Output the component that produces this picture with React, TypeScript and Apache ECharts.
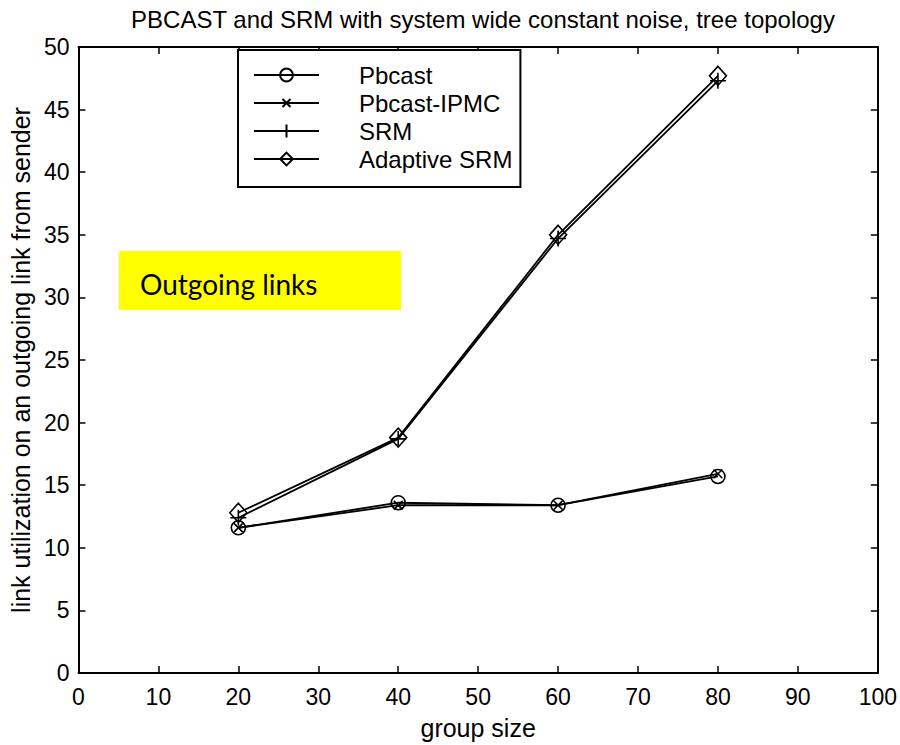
import React, { useEffect, useRef } from "react";
import * as echarts from "echarts";

const groupSizes = [20, 40, 60, 80];
const pbcast = [11.6, 13.6, 13.4, 15.7];
const pbcastIpmc = [11.6, 13.4, 13.4, 15.9];
const srm = [12.4, 18.7, 34.7, 47.3];
const adaptiveSrm = [12.8, 18.8, 35.0, 47.7];
const seriesNames = ["Pbcast", "Pbcast-IPMC", "SRM", "Adaptive SRM"];

const SYM_CIRCLE = "path://M10,5A5,5 0 1 1 0,5A5,5 0 1 1 10,5Z";
const SYM_X = "path://M-3,-3M13,13M0,0L10,10M10,0L0,10";
const SYM_PLUS = "path://M5,0L5,10M0,5L10,5";
const SYM_DIAMOND = "path://M5,0L10,5.5L5,11L0,5.5Z";

const FONT = "Liberation Sans, Arial, Helvetica, sans-serif";

export default function App() {
  const ref = useRef<HTMLDivElement>(null);
  useEffect(() => {
    document.body.style.margin = "0";
    const chart = echarts.init(ref.current!, null, { renderer: "svg" });
    const mk = (name: string, data: number[], symbol: string, size: number | number[]) => ({
      name,
      type: "line",
      data: groupSizes.map((x, i) => [x, data[i]]),
      symbol,
      symbolSize: size,
      showAllSymbol: true,
      lineStyle: { color: "#000", width: 1.8 },
      itemStyle: { color: "rgba(0,0,0,0)", borderColor: "#000", borderWidth: 1.6 },
      emphasis: { disabled: true },
    });
    const tickFont = { fontSize: 23, color: "#000", fontFamily: FONT };
    const axisLine = { show: true, onZero: false, lineStyle: { color: "#000", width: 2 } };
    const axisTick = { show: true, inside: true, length: 7, lineStyle: { color: "#000", width: 1.5 } };
    chart.setOption({
      animation: false,
      title: {
        text: "PBCAST and SRM with system wide constant noise, tree topology",
        left: 478,
        textAlign: "center",
        top: 2,
        textStyle: { fontSize: 24, fontWeight: "normal", color: "#000", fontFamily: FONT },
      },
      legend: {
        data: seriesNames,
        orient: "vertical",
        left: 238,
        top: 50,
        padding: [13, 8, 16, 15],
        itemGap: 4,
        itemWidth: 65,
        itemHeight: 16,
        backgroundColor: "#fff",
        borderColor: "#000",
        borderWidth: 2,
        borderRadius: 0,
        textStyle: {
          fontSize: 24,
          color: "#000",
          fontFamily: FONT,
          padding: [0, 0, 0, 35],
          lineHeight: 24,
        },
      },
      grid: { left: 78, right: 22, top: 47, bottom: 68, containLabel: false },
      xAxis: [
        {
          type: "value",
          min: 0,
          max: 100,
          interval: 10,
          name: "group size",
          nameLocation: "middle",
          nameGap: 42,
          nameTextStyle: { fontSize: 25, color: "#000", fontFamily: FONT },
          axisLine,
          axisTick,
          axisLabel: { ...tickFont, margin: 12 },
          splitLine: { show: false },
        },
        {
          type: "value",
          position: "top",
          min: 0,
          max: 100,
          interval: 10,
          axisLine,
          axisTick,
          axisLabel: { show: false },
          splitLine: { show: false },
        },
      ],
      yAxis: [
        {
          type: "value",
          min: 0,
          max: 50,
          interval: 5,
          name: "link utilization on an outgoing link from sender",
          nameLocation: "middle",
          nameGap: 45,
          nameTextStyle: { fontSize: 25, color: "#000", fontFamily: FONT },
          axisLine,
          axisTick,
          axisLabel: { ...tickFont, margin: 9 },
          splitLine: { show: false },
        },
        {
          type: "value",
          position: "right",
          min: 0,
          max: 50,
          interval: 5,
          axisLine,
          axisTick,
          axisLabel: { show: false },
          splitLine: { show: false },
        },
      ],
      graphic: [
        {
          type: "rect",
          shape: { x: 119, y: 251, width: 282, height: 59 },
          style: { fill: "#FFFF00" },
          z: 5,
        },
        {
          type: "text",
          x: 140,
          y: 284,
          style: {
            text: "Outgoing links",
            fontSize: 28,
            fontFamily: "Lato, Noto Sans, sans-serif",
            fill: "#000",
            verticalAlign: "middle",
            textAlign: "left",
          },
          z: 6,
        },
      ],
      series: [
        mk(seriesNames[0], pbcast, SYM_CIRCLE, 14),
        mk(seriesNames[1], pbcastIpmc, SYM_X, 14),
        mk(seriesNames[2], srm, SYM_PLUS, 16),
        mk(seriesNames[3], adaptiveSrm, SYM_DIAMOND, [17, 19]),
      ],
    });
    return () => chart.dispose();
  }, []);
  return <div ref={ref} style={{ width: 900, height: 745 }} />;
}
